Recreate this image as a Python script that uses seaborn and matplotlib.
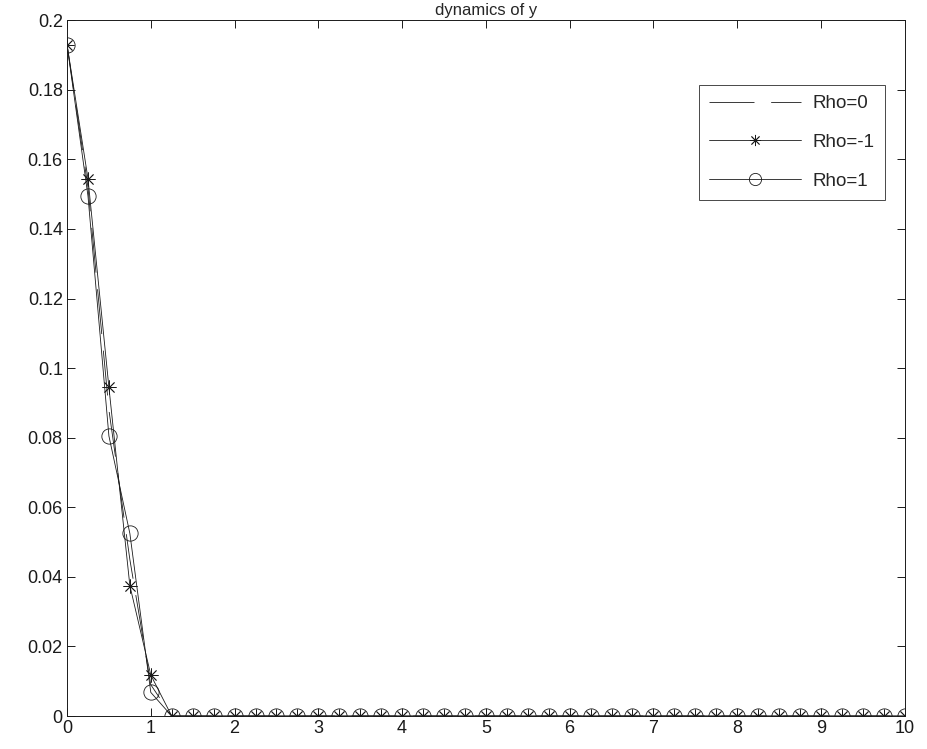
import numpy as np
import pandas as pd
import seaborn as sns
import matplotlib.pyplot as plt

# time grid, 0:0.25:10
t = [i * 0.25 for i in range(41)]

# values, the tail is all zeros
y_rho0 = [0.193, 0.152, 0.088, 0.045, 0.009] + [0.0] * 36
y_rho_m1 = [0.193, 0.1545, 0.0945, 0.0375, 0.0118] + [0.0] * 36
y_rho_p1 = [0.193, 0.1495, 0.0805, 0.0525, 0.0068] + [0.0] * 36

series_labels = ["Rho=0", "Rho=-1", "Rho=1"]

sns.set_theme(style="ticks")
plt.rcParams['font.family'] = ['Liberation Sans', 'DejaVu Sans']

fig = plt.figure(figsize=(9.27, 7.49), dpi=100)
ax = fig.add_axes([0.0723, 0.044, 0.9037, 0.929])

df = pd.DataFrame({"t": t, "r0": y_rho0, "rm1": y_rho_m1, "rp1": y_rho_p1})

# draw with seaborn, then fix the line styles on the artists themselves
sns.lineplot(data=df, x="t", y="r0", color="k", label=series_labels[0], ax=ax)
l0 = ax.lines[-1]
l0.set_linestyle((0, (54, 20)))
l0.set_linewidth(0.6)

sns.lineplot(data=df, x="t", y="rm1", color="k", label=series_labels[1], ax=ax)
l1 = ax.lines[-1]
l1.set_linestyle("-")
l1.set_linewidth(0.6)
l1.set_marker((8, 2, 0))
l1.set_markersize(10)
l1.set_markeredgewidth(0.6)
l1.set_markeredgecolor("k")

sns.lineplot(data=df, x="t", y="rp1", color="k", label=series_labels[2], ax=ax)
l2 = ax.lines[-1]
l2.set_linestyle("-")
l2.set_linewidth(0.6)
l2.set_marker("o")
l2.set_markersize(11)
l2.set_markerfacecolor("none")
l2.set_markeredgecolor("k")
l2.set_markeredgewidth(0.6)

ax.set_xlim(0, 10)
ax.set_ylim(0, 0.2)
ax.set_xticks(range(0, 11))
ax.set_yticks(np.round(np.arange(0, 0.201, 0.02), 2))
ax.set_yticklabels(["0", "0.02", "0.04", "0.06", "0.08", "0.1", "0.12",
                    "0.14", "0.16", "0.18", "0.2"])
ax.set_xlabel("")
ax.set_ylabel("")
ax.set_title("dynamics of y", fontsize=12, pad=4)
ax.tick_params(direction="in", top=True, right=True, length=6, width=0.7,
               labelsize=13, colors="k", pad=3)
for s in ax.spines.values():
    s.set_linewidth(0.7)
    s.set_color("k")

leg = ax.legend(handles=[l0, l1, l2], labels=series_labels,
                loc="upper right", bbox_to_anchor=(0.976, 0.907), fontsize=13.5,
                frameon=True, fancybox=False, edgecolor="k", handlelength=4.9,
                borderpad=0.55, labelspacing=1.15, handletextpad=0.6,
                borderaxespad=0, markerscale=0.8)
leg.get_frame().set_linewidth(0.7)

plt.savefig("out.png", dpi=100)
